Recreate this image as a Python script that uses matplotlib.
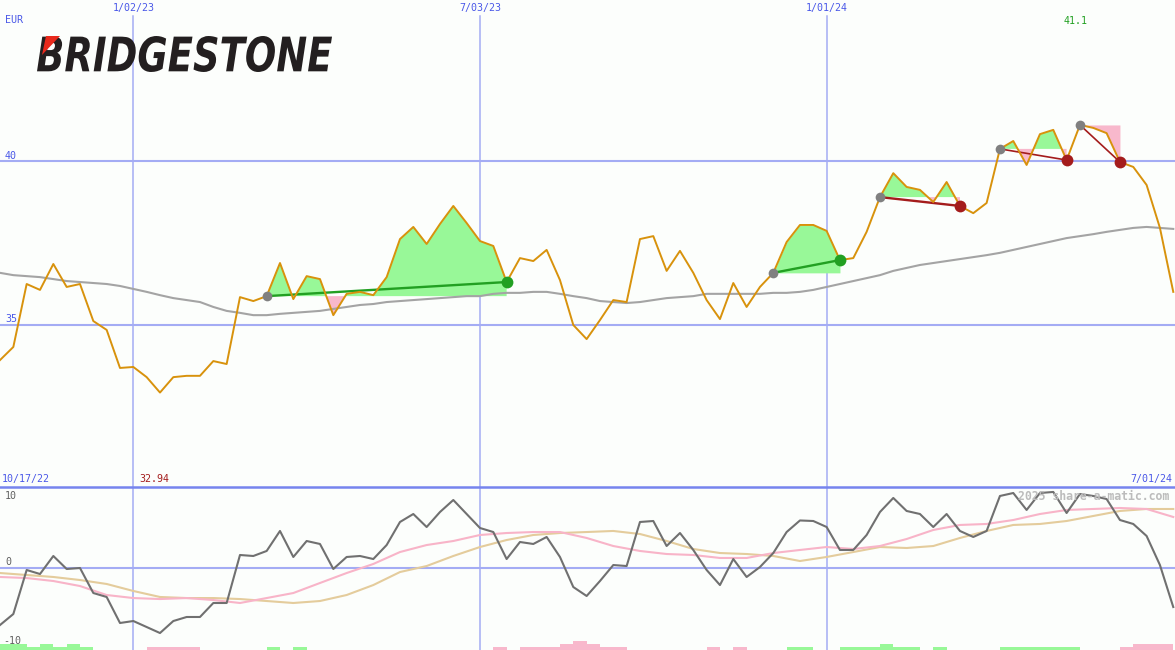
import matplotlib
matplotlib.use('Agg')
import matplotlib.pyplot as plt
from matplotlib.textpath import TextPath
from matplotlib.font_manager import FontProperties
from matplotlib.patches import PathPatch, Polygon
from matplotlib.transforms import Affine2D
from matplotlib.lines import Line2D
import numpy as np
import pandas as pd

W, H = 1175, 650

# weekly closes (EUR)
dates = pd.date_range('2022-10-24', periods=89, freq='7D')
price = [33.93, 34.33, 36.25, 36.07, 36.86, 36.16, 36.25, 35.12, 34.85, 33.69,
         33.72, 33.41, 32.94, 33.41, 33.45, 33.45, 33.90, 33.81, 35.85, 35.73,
         35.88, 36.89, 35.79, 36.49, 36.40, 35.30, 35.95, 36.01, 35.91, 36.46,
         37.62, 37.99, 37.47, 38.08, 38.63, 38.11, 37.56, 37.41, 36.31, 37.04,
         36.95, 37.29, 36.37, 35.00, 34.57, 35.15, 35.76, 35.70, 37.62, 37.71,
         36.65, 37.26, 36.59, 35.76, 35.18, 36.28, 35.55, 36.16, 36.59, 37.53,
         38.05, 38.05, 37.87, 36.98, 37.04, 37.84, 38.90, 39.63, 39.21, 39.12,
         38.75, 39.36, 38.63, 38.41, 38.72, 40.37, 40.61, 39.88, 40.82, 40.95,
         40.03, 41.10, 41.01, 40.85, 39.97, 39.82, 39.27, 37.96, 36.01]

# long moving average
ma_long = [36.59, 36.52, 36.49, 36.46, 36.40, 36.34, 36.31, 36.28, 36.25, 36.19,
           36.10, 36.01, 35.91, 35.82, 35.76, 35.70, 35.55, 35.43, 35.37, 35.30,
           35.30, 35.34, 35.37, 35.40, 35.43, 35.49, 35.55, 35.61, 35.64, 35.70,
           35.73, 35.76, 35.79, 35.82, 35.85, 35.88, 35.88, 35.95, 35.98, 35.98,
           36.01, 36.01, 35.95, 35.88, 35.82, 35.73, 35.70, 35.67, 35.70, 35.76,
           35.82, 35.85, 35.88, 35.95, 35.95, 35.95, 35.95, 35.95, 35.98, 35.98,
           36.01, 36.07, 36.16, 36.25, 36.34, 36.43, 36.52, 36.65, 36.74, 36.83,
           36.89, 36.95, 37.01, 37.07, 37.13, 37.20, 37.29, 37.38, 37.47, 37.56,
           37.65, 37.71, 37.77, 37.84, 37.90, 37.96, 37.99, 37.96, 37.93]

# signals: start week, end week, direction
sig_start = [20, 58, 66, 75, 81]
sig_end = [38, 63, 72, 80, 84]
sig_kind = ['buy', 'buy', 'sell', 'sell', 'sell']

# lower panel oscillator
momentum = [-8.64, -6.97, -0.30, -0.91, 1.82, -0.15, 0.00, -3.79, -4.39, -8.33,
            -8.03, -8.94, -9.85, -8.03, -7.42, -7.42, -5.30, -5.30, 1.97, 1.82,
            2.58, 5.61, 1.67, 4.09, 3.64, -0.15, 1.67, 1.82, 1.36, 3.48,
            6.97, 8.18, 6.21, 8.48, 10.30, 8.18, 6.06, 5.45, 1.36, 3.94,
            3.64, 4.70, 1.67, -2.88, -4.24, -1.97, 0.45, 0.30, 6.97, 7.12,
            3.33, 5.30, 2.73, -0.30, -2.58, 1.36, -1.36, 0.15, 2.27, 5.45,
            7.20, 7.12, 6.21, 2.73, 2.73, 5.00, 8.48, 10.61, 8.64, 8.18,
            6.21, 8.18, 5.61, 4.70, 5.61, 10.91, 11.36, 8.79, 11.36, 11.52,
            8.33, 11.21, 10.91, 10.45, 7.27, 6.67, 4.85, 0.45, -5.91]

# smoothed oscillator lines (every second week)
mom_pink = [-1.36, -1.52, -1.97, -2.73, -4.09, -4.55, -4.70, -4.55, -4.85, -5.30,
            -4.55, -3.79, -2.27, -0.76, 0.61, 2.42, 3.48, 4.09, 5.00, 5.30,
            5.45, 5.45, 4.55, 3.33, 2.58, 2.12, 1.97, 1.52, 1.52, 2.27,
            2.73, 3.18, 2.88, 3.33, 4.39, 5.76, 6.52, 6.67, 7.27, 8.18,
            8.79, 8.94, 9.09, 8.94, 7.73]
mom_tan = [-0.76, -1.06, -1.36, -1.82, -2.42, -3.48, -4.39, -4.55, -4.55, -4.70,
           -5.00, -5.30, -5.00, -4.09, -2.58, -0.61, 0.30, 1.82, 3.18, 4.24,
           5.00, 5.30, 5.45, 5.61, 5.15, 4.09, 2.88, 2.27, 2.12, 1.82,
           1.06, 1.67, 2.42, 3.18, 3.03, 3.33, 4.55, 5.61, 6.52, 6.67,
           7.12, 7.88, 8.64, 8.94, 8.94]

# small bars at the bottom (+ green, - pink)
hist = [2, 2, 1, 2, 1, 2, 1, 0, 0, 0,
        0, -1, -1, -1, -1, 0, 0, 0, 0, 0,
        1, 0, 1, 0, 0, 0, 0, 0, 0, 0,
        0, 0, 0, 0, 0, 0, 0, -1, 0, -1,
        -1, -1, -2, -3, -2, -1, -1, 0, 0, 0,
        0, 0, 0, -1, 0, -1, 0, 0, 0, 1,
        1, 0, 0, 1, 1, 1, 2, 1, 1, 0,
        1, 0, 0, 0, 0, 1, 1, 1, 1, 1,
        1, 0, 0, 0, -1, -2, -2, -2, 0]

bg = '#fcfefc'
grid_blue = '#a4acf4'
label_blue = '#4a58e8'
mono = 'DejaVu Sans Mono'

x = np.arange(len(price))
p = np.array(price)
xmax = 88.13

fig = plt.figure(figsize=(W / 100, H / 100), dpi=100, facecolor=bg)

# ---- top panel ----
ax1 = fig.add_axes([0, 163 / H, 1, 487 / H])
ax1.set_facecolor(bg)
ax1.set_xlim(0, xmax)
ax1.set_ylim(30.06, 44.91)
ax1.axis('off')
for lvl in [40, 35]:
    ax1.axhline(lvl, color=grid_blue, lw=1.5, zorder=0)

# vertical date lines
tick_dates = ['2023-01-02', '2023-07-03', '2024-01-01']
tick_idx = [dates.get_loc(pd.Timestamp(d)) for d in tick_dates]
for i in tick_idx:
    ax1.axvline(i, ymax=1 - 16 / 487, color=grid_blue, lw=1.1, zorder=0)

ax1.plot(x, ma_long, color='#a4a4a4', lw=1.5, zorder=2)

for n, (s, e, kind) in enumerate(zip(sig_start, sig_end, sig_kind)):
    xs = x[s:e + 1]
    ys = p[s:e + 1]
    base = p[s]
    ax1.fill_between(xs, ys, base, where=ys >= base, interpolate=True,
                     color='#98f898', lw=0, zorder=1)
    ax1.fill_between(xs, ys, base, where=ys < base, interpolate=True,
                     color='#f8b8cc', lw=0, zorder=1)
    col = '#22a022' if kind == 'buy' else '#a41c1c'
    ax1.plot([s, e], [p[s], p[e]], color=col, lw=1.7 if n < 3 else 1.2, zorder=3)

ax1.plot(x, p, color='#d8920c', lw=1.4, zorder=4)

for s, e, kind in zip(sig_start, sig_end, sig_kind):
    col = '#22a022' if kind == 'buy' else '#a41c1c'
    ax1.plot(s, p[s], 'o', color='#808080', ms=7, mew=0, zorder=5)
    ax1.plot(e, p[e], 'o', color=col, ms=8.5, mew=0, zorder=5)

# ---- lower panel ----
ax2 = fig.add_axes([0, 0, 1, 163 / H])
ax2.set_facecolor(bg)
ax2.set_xlim(0, xmax)
ax2.set_ylim(-12.42, 12.27)
ax2.axis('off')
ax2.axhline(0, color=grid_blue, lw=1.5, zorder=0)
for i in tick_idx:
    ax2.axvline(i, color=grid_blue, lw=1.1, zorder=0)

h = np.array(hist)
bar_unit = 3 / 6.6
ax2.bar(x + 0.5, np.abs(h) * bar_unit, width=1.0, bottom=-12.42,
        color=np.where(h > 0, '#98f898', '#f8b8cc'), lw=0, zorder=1)

x_half = np.arange(0, len(price), 2)
ax2.plot(x_half, mom_tan, color='#e4cc9c', lw=1.5, zorder=2)
ax2.plot(x_half, mom_pink, color='#f8b4c8', lw=1.5, zorder=2)
ax2.plot(x, momentum, color='#707070', lw=1.5, zorder=3)

# separator between panels
fig.add_artist(Line2D([0, 1], [1 - 487 / H, 1 - 487 / H], transform=fig.transFigure,
                      color='#7684ee', lw=1.8))


def ftext(px, py, s, **kw):
    fig.text(px / W, 1 - py / H, s, va='center', family=mono, **kw)


ftext(5, 20, 'EUR', color=label_blue, fontsize=7.2)
for i, d in zip(tick_idx, tick_dates):
    lab = pd.Timestamp(d)
    ftext(i * W / xmax, 8, f'{lab.month}/{lab.day:02d}/{lab.year % 100}',
          color=label_blue, fontsize=7.2, ha='center')
ftext(1076, 21, f'{max(price):.1f}', color='#22a022', fontsize=7.2, ha='center')
ftext(5, 156, '40', color=label_blue, fontsize=7.2)
ftext(5, 319, '35', color=label_blue, fontsize=7.2)
ftext(2, 479, '10/17/22', color=label_blue, fontsize=7.2)
ftext(139, 479, f'{min(price):.2f}', color='#a41c1c', fontsize=7.2)
last = dates[-1]
ftext(1172, 479, f'{last.month}/{last.day:02d}/{last.year % 100}',
      color=label_blue, fontsize=7.2, ha='right')
ftext(5, 496, '10', color='#606060', fontsize=7.2)
ftext(5, 562, '0', color='#606060', fontsize=7.2)
ftext(3, 641, '-10', color='#606060', fontsize=7.2)
ftext(1018, 496, '2025 share-a-matic.com', color='#bcbcbc', fontsize=8.3,
      weight='bold', zorder=0)

# logo
fp = FontProperties(family='DejaVu Sans', weight='bold', style='italic')
tp = TextPath((0, 0), 'BRIDGESTONE', size=1, prop=fp)
ext = tp.get_extents()
tr = (Affine2D().translate(-ext.x0, -ext.y0)
      .scale(295 / ext.width / W, 36 / ext.height / H)
      .translate(37 / W, 1 - 72 / H) + fig.transFigure)
fig.add_artist(PathPatch(tp, transform=tr, color='#231f20', lw=0, zorder=10))
tri = [(46 / W, 1 - 36 / H), (60 / W, 1 - 36 / H), (42 / W, 1 - 55 / H)]
fig.add_artist(Polygon(tri, closed=True, transform=fig.transFigure,
                       color='#e8291c', lw=0, zorder=11))

plt.savefig('out.png', dpi=100, facecolor=bg)
